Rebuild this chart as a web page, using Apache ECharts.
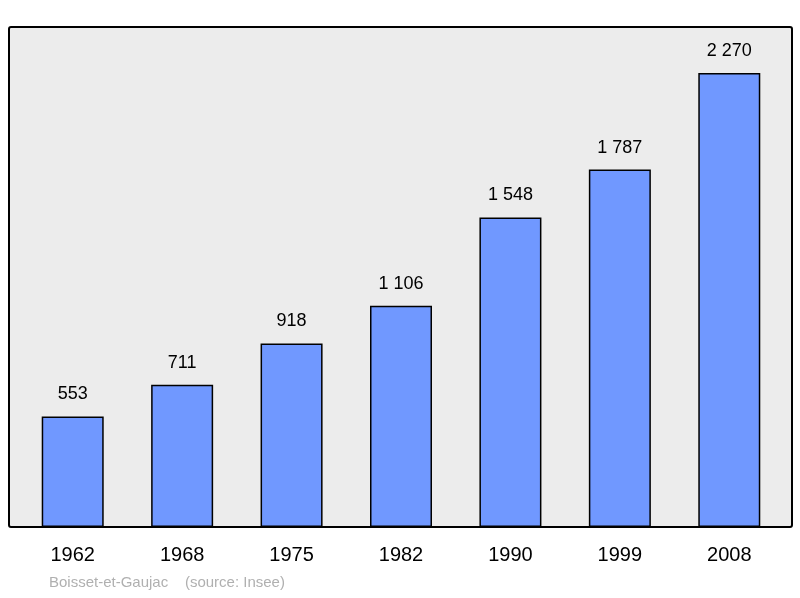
<!DOCTYPE html>
<html><head><meta charset="utf-8">
<script src="https://cdn.jsdelivr.net/npm/echarts@6/dist/echarts.min.js"></script>
<style>html,body{margin:0;padding:0;background:#fff}#main{width:800px;height:598px}</style>
</head><body><div id="main"></div>
<script>
var years = ['1962', '1968', '1975', '1982', '1990', '1999', '2008'];
var population = [553, 711, 918, 1106, 1548, 1787, 2270];

var myChart = echarts.init(document.getElementById('main'));
myChart.setOption({
    animation: false,
    textStyle: { fontFamily: 'Liberation Sans, Arial, sans-serif' },
    graphic: [
        { type: 'rect', z: -10, shape: { x: 9, y: 27, width: 783, height: 500, r: 2 },
          style: { fill: '#ececec', stroke: '#000', lineWidth: 2 } },
        { type: 'text', left: 49, top: 575,
          style: { text: 'Boisset-et-Gaujac    (source: Insee)', fill: '#b0b0b0', fontSize: 15, fontFamily: 'Liberation Sans, Arial, sans-serif' } }
    ],
    grid: { left: 18, right: 16, top: 27, bottom: 71 },
    xAxis: {
        type: 'category', data: years,
        axisLine: { show: false }, axisTick: { show: false },
        axisLabel: { fontSize: 20, color: '#000', margin: 18 }
    },
    yAxis: {
        type: 'value', min: 0, max: 2500,
        show: false, splitLine: { show: false }
    },
    series: [{
        type: 'bar', data: population, barWidth: 62,
        itemStyle: { color: '#7098ff', borderColor: '#000', borderWidth: 1.5 },
        label: {
            show: true, position: 'top', distance: 13, fontSize: 18, color: '#000',
            formatter: function (p) { return String(p.value).replace(/\B(?=(\d{3})+$)/g, ' '); }
        }
    }]
});
</script></body></html>
